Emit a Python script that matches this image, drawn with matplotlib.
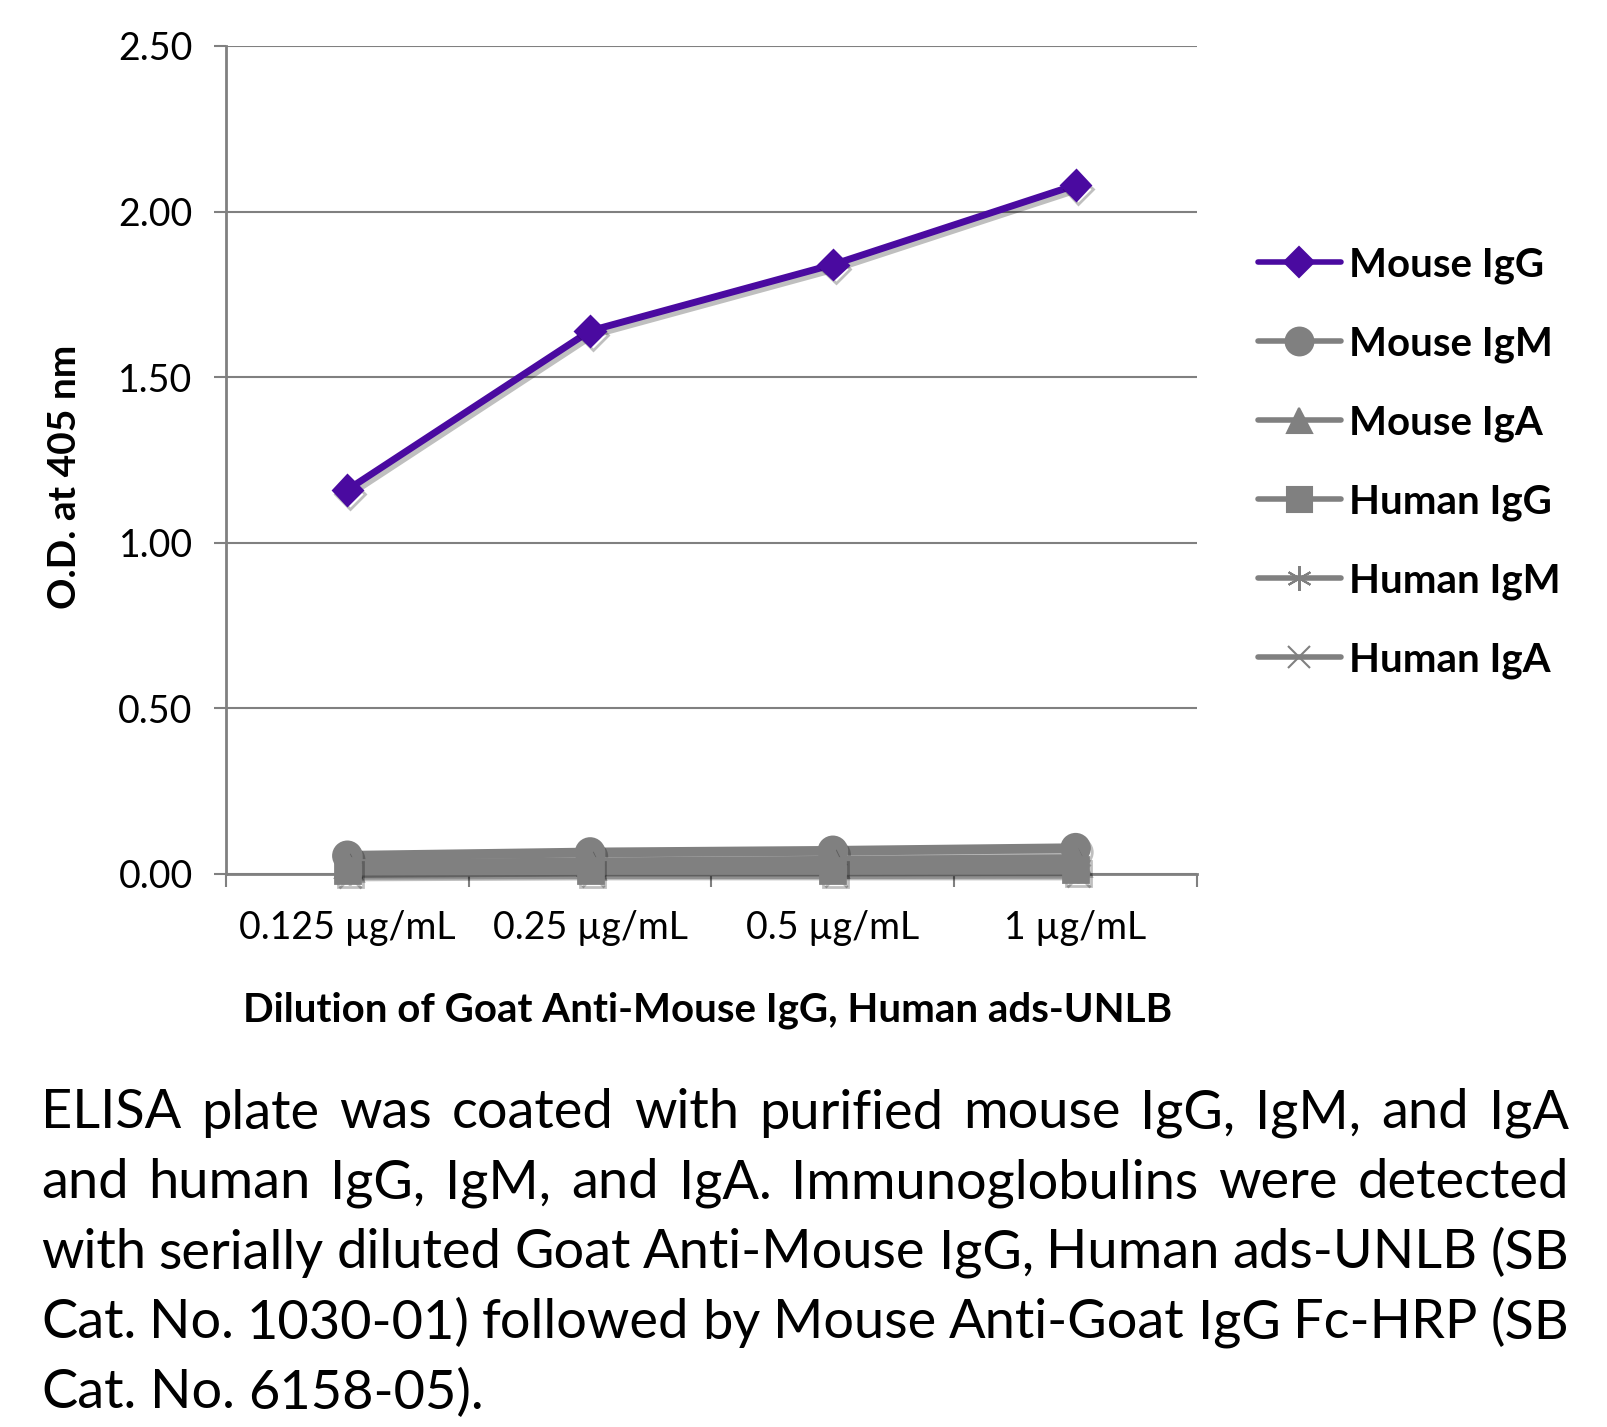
import matplotlib
matplotlib.use("Agg")
import matplotlib.pyplot as plt
import matplotlib.patheffects as pe
from matplotlib.lines import Line2D

# data
categories = ["0.125 µg/mL", "0.25 µg/mL", "0.5 µg/mL", "1 µg/mL"]
mouse_igg = [1.16, 1.64, 1.84, 2.08]
mouse_igm = [0.055, 0.065, 0.070, 0.078]
mouse_iga = [0.030, 0.035, 0.040, 0.045]
human_igg = [0.010, 0.012, 0.012, 0.013]
human_igm = [0.015, 0.020, 0.020, 0.022]
human_iga = [0.005, 0.008, 0.008, 0.008]
series_names = ["Mouse IgG", "Mouse IgM", "Mouse IgA", "Human IgG", "Human IgM", "Human IgA"]
y_ticks = [0.0, 0.5, 1.0, 1.5, 2.0, 2.5]

caption_lines = [
    "ELISA plate was coated with purified mouse IgG, IgM, and IgA",
    "and human IgG, IgM, and IgA.  Immunoglobulins were detected",
    "with serially diluted Goat Anti-Mouse IgG, Human ads-UNLB (SB",
    "Cat. No. 1030-01) followed by Mouse Anti-Goat IgG Fc-HRP (SB",
    "Cat. No. 6158-05).",
]

FONT = "Lato"
PURPLE = "#4a0aa0"
GREY = "#808080"
W, H = 1608, 1427

plt.rcParams["font.family"] = [FONT, "DejaVu Sans"]
fig = plt.figure(figsize=(W / 100, H / 100), dpi=100)
ax = fig.add_axes([226 / W, 1 - 874 / H, (1197 - 226) / W, (874 - 46) / H])

x = list(range(len(categories)))
# values, colour, marker, size, line width, zorder
styles = [
    (mouse_igg, PURPLE, "D", 15, 5, 4),
    (mouse_igm, GREY, "o", 20, 7, 3),
    (mouse_iga, GREY, "^", 18, 7, 3),
    (human_igg, GREY, "s", 18, 7, 3.5),
    (human_igm, GREY, (6, 2, 0), 18, 7, 3),
    (human_iga, GREY, "x", 16, 7, 3),
]
shadow = [pe.SimpleLineShadow(offset=(2, -3), shadow_color="k", alpha=0.25), pe.Normal()]
handles = []
for (vals, col, mk, ms, lw, zo), name in zip(styles, series_names):
    ax.plot(x, vals, color=col, marker=mk, markersize=ms, linewidth=lw,
            markeredgecolor=col, markeredgewidth=2, clip_on=False, zorder=zo,
            path_effects=shadow, solid_capstyle="round")
    handles.append(Line2D([], [], color=col, marker=mk, markersize=ms,
                          linewidth=4, markeredgecolor=col, markeredgewidth=1.5,
                          solid_capstyle="round"))

ax.set_xlim(-0.5, 3.5)
ax.set_ylim(0, 2.5)
ax.set_yticks(y_ticks)
ax.set_yticklabels([f"{v:.2f}" for v in y_ticks])
ax.set_xticks(x)
ax.set_xticklabels(categories)
ax.set_xticks([-0.5, 0.5, 1.5, 2.5, 3.5], minor=True)
ax.tick_params(axis="x", which="major", length=0, pad=26, labelsize=27)
ax.tick_params(axis="x", which="minor", length=9, width=1.5, color=GREY, direction="out")
ax.tick_params(axis="y", length=9, width=1.5, color=GREY, pad=15, labelsize=27)
ax.yaxis.grid(True, color=GREY, linewidth=1.5)
ax.set_axisbelow(True)
for s in ["top", "right"]:
    ax.spines[s].set_visible(False)
for s in ["left", "bottom"]:
    ax.spines[s].set_color(GREY)
    ax.spines[s].set_linewidth(2)

fig.text(65 / W, 1 - 477 / H, "O.D. at 405 nm", rotation=90, ha="center", va="center",
         fontsize=28, fontweight="bold")
fig.text(708 / W, 1 - 1010 / H, "Dilution of Goat Anti-Mouse IgG, Human ads-UNLB",
         ha="center", va="center", fontsize=29, fontweight="bold")

fig.legend(handles, series_names, loc="upper left", bbox_to_anchor=(1238 / W, 1 - 226 / H),
           frameon=False, prop={"weight": "bold", "size": 29},
           handlelength=2.05, handletextpad=0.2, labelspacing=1.03, borderpad=0)

# justified caption
cap_size = 39
left, right = 41, 1569
line_y = [1113, 1183, 1253, 1323, 1393]
fig.canvas.draw()
renderer = fig.canvas.get_renderer()
for i, (line, yy) in enumerate(zip(caption_lines, line_y)):
    words = line.split()
    texts = [fig.text(0, 1 - yy / H, w_, fontsize=cap_size, va="center", ha="left") for w_ in words]
    widths = [t.get_window_extent(renderer).width for t in texts]
    if i < len(caption_lines) - 1 and len(words) > 1:
        gap = (right - left - sum(widths)) / (len(words) - 1)
    else:
        gap = cap_size * 100 / 72 * 0.25
    pos = left
    for t, wd in zip(texts, widths):
        t.set_x(pos / W)
        pos += wd + gap

fig.savefig("out.png", dpi=100)
